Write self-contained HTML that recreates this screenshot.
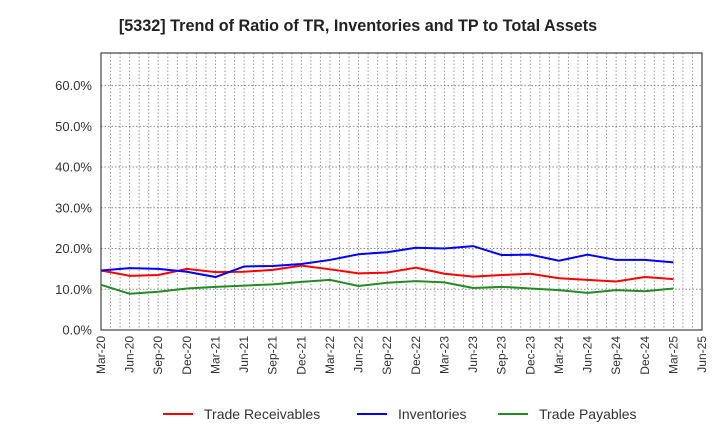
<!DOCTYPE html>
<html><head><meta charset="utf-8"><style>
body{margin:0;background:#fff;font-family:"Liberation Sans",Arial,sans-serif}
svg text{font-family:"Liberation Sans",Arial,sans-serif}
</style></head><body>
<svg id="c" width="720" height="440" xmlns="http://www.w3.org/2000/svg">
<text x="358" y="31" text-anchor="middle" font-size="16.2" font-weight="bold" fill="#222">[5332]  Trend of Ratio of TR, Inventories and TP to Total Assets</text>
<g id="grid"></g><g id="axes"></g><g id="series"></g><g id="legend"></g>
</svg>
<script>
const categories=["Mar-20","Jun-20","Sep-20","Dec-20","Mar-21","Jun-21","Sep-21","Dec-21","Mar-22","Jun-22","Sep-22","Dec-22","Mar-23","Jun-23","Sep-23","Dec-23","Mar-24","Jun-24","Sep-24","Dec-24","Mar-25"];
const xTickLabels=["Mar-20","Jun-20","Sep-20","Dec-20","Mar-21","Jun-21","Sep-21","Dec-21","Mar-22","Jun-22","Sep-22","Dec-22","Mar-23","Jun-23","Sep-23","Dec-23","Mar-24","Jun-24","Sep-24","Dec-24","Mar-25","Jun-25"];
const yTicks=[0,10,20,30,40,50,60];
const tradeReceivables=[14.6,13.3,13.5,15.0,14.2,14.3,14.75,15.8,14.9,13.9,14.1,15.3,13.8,13.1,13.5,13.8,12.7,12.3,11.9,13.0,12.5];
const inventories=[14.6,15.2,15.0,14.3,13.0,15.6,15.7,16.2,17.2,18.6,19.1,20.2,20.0,20.6,18.4,18.5,17.0,18.5,17.2,17.2,16.6];
const tradePayables=[11.1,8.9,9.4,10.2,10.6,10.9,11.2,11.8,12.3,10.8,11.6,12.0,11.7,10.3,10.6,10.2,9.8,9.1,9.8,9.5,10.2];
const NS="http://www.w3.org/2000/svg";
const L=101,R=702,T=53,B=330,YMAX=68;
const nQ=xTickLabels.length-1;
function xs(i){return L+(R-L)*i/nQ;}
function ys(v){return B-(B-T)*v/YMAX;}
function mk(tag,attrs,parent){const e=document.createElementNS(NS,tag);for(const k in attrs)e.setAttribute(k,attrs[k]);parent.appendChild(e);return e;}
const grid=document.getElementById('grid'),axes=document.getElementById('axes'),series=document.getElementById('series'),legend=document.getElementById('legend');
for(let m=1;m<nQ*3;m++){const x=L+(R-L)*m/(nQ*3);
const g=mk('line',{x1:x,x2:x,y1:T,y2:B,stroke:'#999','stroke-dasharray':'1.5,2','stroke-width':1},grid);

}
yTicks.forEach(v=>{const y=ys(v);
if(v>0){const g=mk('line',{x1:L,x2:R,y1:y,y2:y,stroke:'#888','stroke-dasharray':'1.5,2','stroke-width':1},grid);

}
const t=mk('text',{x:92,y:y+4.5,'text-anchor':'end','font-size':13,fill:'#333'},axes);t.textContent=v.toFixed(1)+'%';

});
const frame=mk('rect',{x:L,y:T,width:R-L,height:B-T,fill:'none',stroke:'#444','stroke-width':1.2},axes);


xTickLabels.forEach((s,i)=>{const x=xs(i);
const t=mk('text',{x:0,y:0,'text-anchor':'end','font-size':12,fill:'#333',transform:`translate(${x+4},${B+6}) rotate(-90)`},axes);t.textContent=s;

});
[[tradeReceivables,'#ff0000','trade-receivables-line'],[inventories,'#0000ff','inventories-line'],[tradePayables,'#228B22','trade-payables-line']].forEach(([d,c,n])=>{
const p=mk('polyline',{points:d.map((v,i)=>xs(i)+','+ys(v)).join(' '),fill:'none',stroke:c,'stroke-width':2},series);

});
[['Trade Receivables','#ff0000',163],['Inventories','#0000ff',357],['Trade Payables','#228B22',498]].forEach(([s,c,x])=>{
const l=mk('line',{x1:x,x2:x+30,y1:414,y2:414,stroke:c,'stroke-width':2},legend);


const t=mk('text',{x:x+41,y:419,'font-size':14,fill:'#333'},legend);t.textContent=s;

});
</script>
</body></html>
